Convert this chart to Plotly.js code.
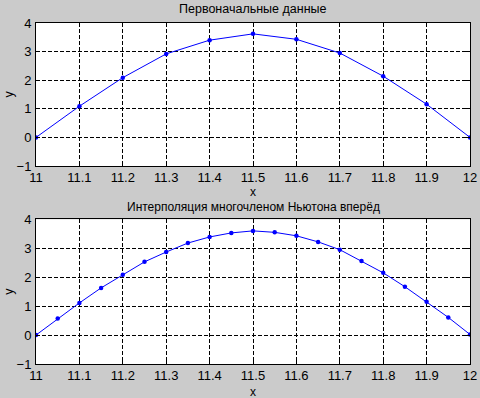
<!DOCTYPE html>
<html>
<head>
<meta charset="utf-8">
<script src="https://cdn.plot.ly/plotly-3.0.1.min.js"></script>
<style>html,body{margin:0;padding:0;background:#cbcbcb;}#chart{width:480px;height:398px;}</style>
</head>
<body>
<div id="chart"></div>
<script>
const xOrig = [11, 11.1, 11.2, 11.3, 11.4, 11.5, 11.6, 11.7, 11.8, 11.9, 12];
const yOrig = [0, 1.09, 2.09, 2.92, 3.40, 3.62, 3.43, 2.95, 2.14, 1.16, 0];
const xInterp = [11, 11.05, 11.1, 11.15, 11.2, 11.25, 11.3, 11.35, 11.4, 11.45, 11.5, 11.55, 11.6, 11.65, 11.7, 11.75, 11.8, 11.85, 11.9, 11.95, 12];
const yInterp = [0, 0.57, 1.11, 1.63, 2.08, 2.53, 2.87, 3.18, 3.39, 3.53, 3.60, 3.55, 3.43, 3.22, 2.95, 2.56, 2.15, 1.67, 1.15, 0.61, 0.02];
const xTicks = [11, 11.1, 11.2, 11.3, 11.4, 11.5, 11.6, 11.7, 11.8, 11.9, 12];
const xTickText = ['11', '11.1', '11.2', '11.3', '11.4', '11.5', '11.6', '11.7', '11.8', '11.9', '12'];
const yTicks = [-1, 0, 1, 2, 3, 4];
const title1 = 'Первоначальные данные';
const title2 = 'Интерполяция многочленом Ньютона вперёд';

const FONT = 'Liberation Sans, Arial, sans-serif';
const traceStyle = {mode: 'lines+markers', line: {color: '#0000ff', width: 1}, marker: {color: '#0000ff', size: 4.5}, showlegend: false, hoverinfo: 'skip'};

const data = [
  Object.assign({x: xOrig, y: yOrig, xaxis: 'x', yaxis: 'y'}, traceStyle),
  Object.assign({x: xInterp, y: yInterp, xaxis: 'x2', yaxis: 'y2'}, traceStyle)
];

function xax(anchor) {
  return {anchor: anchor, domain: [0, 1], range: [11, 12], tickvals: xTicks, ticktext: xTickText,
    showgrid: true, gridcolor: '#000', griddash: '4px,2px', gridwidth: 1,
    showline: true, linecolor: '#000', linewidth: 1, mirror: 'ticks',
    ticks: 'inside', ticklen: 4, tickcolor: '#000', zeroline: false, ticklabelstandoff: -1,
    tickfont: {family: FONT, size: 13, color: '#000'}};
}
function yax(anchor, dom) {
  return {anchor: anchor, domain: dom, range: [-1, 4], tickvals: yTicks,
    showgrid: true, gridcolor: '#000', griddash: '4px,2px', gridwidth: 1,
    showline: true, linecolor: '#000', linewidth: 1, mirror: 'ticks',
    ticks: 'inside', ticklen: 4, tickcolor: '#000', zeroline: false, ticklabelstandoff: 1,
    tickfont: {family: FONT, size: 13, color: '#000'}};
}

const ann = (text, x, y, xs, ys, angle, size) => ({text: text, xref: 'paper', yref: 'paper', x: x, y: y, xshift: xs, yshift: ys,
  xanchor: 'center', yanchor: 'middle', textangle: angle || 0, showarrow: false, font: {family: FONT, size: size || 12.5, color: '#000'}});

const layout = {
  width: 480, height: 398,
  paper_bgcolor: '#cbcbcb', plot_bgcolor: '#ffffff',
  margin: {l: 36, r: 10, t: 23, b: 34},
  xaxis: xax('y'), yaxis: yax('x', [0.5806, 1]),
  xaxis2: xax('y2'), yaxis2: yax('x2', [0, 0.4243]),
  annotations: [
    ann(title1, 0.5, 1, 0, 14),
    ann(title2, 0.5, 0.4243, 0, 12, 0, 12),
    ann('x', 0.5, 0.5806, 0, -26, 0, 12),
    ann('x', 0.5, 0, 0, -28, 0, 12),
    ann('y', 0, 0.79, -27, 0, -90),
    ann('y', 0, 0.212, -27, 0, -90)
  ]
};

Plotly.newPlot('chart', data, layout, {displayModeBar: false, staticPlot: true});
</script>
</body>
</html>
